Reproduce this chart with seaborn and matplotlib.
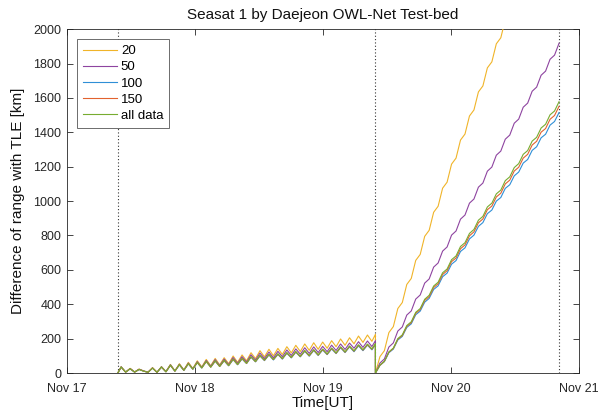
import numpy as np
import pandas as pd
import matplotlib
matplotlib.use("Agg")
import matplotlib.pyplot as plt
import seaborn as sns

# ---------------- data ----------------
series_names = ["20", "50", "100", "150", "all data"]
colors = ["#F0B429", "#8E44A0", "#2F8FD6", "#E2622E", "#77AC30"]

# time grid (day of November, UT): pass start, half-orbit samples, end
pass1_start = 17.40
pass_split = 19.41
half_orbit = 0.03496
first_peak = 17.6695
t_pass1 = [pass1_start] + [round(first_peak + half_orbit * m, 4) for m in range(-7, 50)] + [pass_split]
t_pass2 = [round(pass_split + half_orbit * j, 4) for j in range(0, 42)]

y20_p1 = [2, 37, 5, 27, 6, 23, 12, 5,
          31, 4, 37, 8, 50, 12, 54, 18, 62, 26, 71, 35, 79, 42, 85, 47, 89, 54,
          99, 62, 105, 71, 118, 84, 130, 94, 138, 100, 143, 108, 153, 117, 161, 125,
          169, 132, 176, 138, 180, 144, 188, 153, 198, 161, 205, 170, 215, 178, 221, 184,
          225]
y50_p1 = [2, 36, 5, 26, 6, 22, 12, 5,
          30, 4, 36, 8, 48, 12, 51, 17, 58, 24, 66, 33, 73, 39, 78, 43, 81, 49,
          90, 56, 95, 64, 106, 75, 116, 84, 122, 88, 126, 95, 134, 102, 140, 109,
          147, 114, 152, 119, 155, 124, 162, 131, 169, 137, 174, 144, 182, 149, 186, 154,
          188]
y100_p1 = [2, 34, 5, 24, 5, 20, 11, 4,
           28, 4, 34, 7, 44, 11, 47, 15, 53, 22, 60, 29, 66, 34, 69, 38, 71, 42,
           78, 48, 82, 55, 92, 65, 99, 72, 105, 76, 108, 81, 115, 88, 121, 94,
           126, 98, 131, 102, 134, 107, 140, 113, 147, 119, 152, 124, 158, 130, 162, 135,
           165]
y150_p1 = [2, 34, 5, 25, 5, 21, 11, 4,
           29, 4, 34, 7, 45, 11, 48, 16, 54, 23, 61, 30, 67, 34, 70, 38, 73, 43,
           80, 49, 84, 56, 94, 66, 101, 74, 107, 78, 110, 83, 117, 90, 123, 96,
           129, 100, 134, 104, 137, 109, 143, 115, 150, 121, 155, 127, 162, 133, 165, 138,
           168]
yall_p1 = [2, 35, 5, 25, 5, 21, 11, 4,
           29, 4, 35, 7, 46, 11, 49, 16, 55, 23, 62, 30, 68, 35, 71, 39, 74, 44,
           81, 50, 85, 57, 95, 67, 103, 75, 109, 79, 112, 84, 119, 91, 125, 97,
           131, 102, 136, 106, 139, 111, 145, 117, 152, 123, 157, 129, 164, 135, 168, 140,
           171]

y20_p2 = [0, 95, 130, 235, 270, 375, 410, 515, 550, 655, 690, 795, 830, 935, 970,
          1075, 1110, 1215, 1250, 1355, 1390, 1495, 1530, 1635, 1670, 1775, 1810,
          1915, 1950, 2055, 2090, 2195, 2230, 2335, 2370, 2475, 2510, 2615, 2650,
          2755, 2790, 2895]
y50_p2 = [0, 58, 82, 151, 175, 244, 268, 337, 361, 430, 454, 523, 547, 616, 640,
          709, 733, 802, 826, 895, 919, 988, 1012, 1081, 1105, 1174, 1198, 1267,
          1291, 1360, 1384, 1453, 1477, 1546, 1570, 1639, 1663, 1732, 1756, 1825,
          1849, 1918]
y100_p2 = [0, 44, 66, 118, 139, 192, 213, 265, 286, 339, 360, 412, 434, 486, 507,
           560, 581, 633, 654, 707, 728, 780, 802, 853, 875, 927, 948, 1000, 1021,
           1074, 1095, 1147, 1169, 1221, 1242, 1295, 1316, 1368, 1389, 1442, 1463,
           1515]
y150_p2 = [0, 45, 68, 121, 143, 197, 218, 271, 293, 347, 369, 422, 444, 497, 519,
           573, 595, 648, 669, 723, 745, 798, 821, 874, 896, 950, 971, 1024, 1046,
           1100, 1122, 1175, 1197, 1250, 1272, 1326, 1348, 1401, 1422, 1476, 1498,
           1551]
yall_p2 = [0, 46, 69, 123, 145, 200, 222, 276, 298, 353, 375, 429, 452, 506, 528,
           583, 605, 659, 681, 736, 758, 812, 835, 889, 911, 966, 988, 1042, 1064,
           1119, 1141, 1195, 1218, 1272, 1294, 1349, 1371, 1425, 1447, 1502, 1524,
           1578]

vlines = [17.40, 19.41, 20.84]
xticks = [17, 18, 19, 20, 21]
xticklabels = ["Nov 17", "Nov 18", "Nov 19", "Nov 20", "Nov 21"]
yticks = list(range(0, 2001, 200))

# ---------------- build long-form table ----------------
p1 = [y20_p1, y50_p1, y100_p1, y150_p1, yall_p1]
p2 = [y20_p2, y50_p2, y100_p2, y150_p2, yall_p2]
frames = []
for name, a, b in zip(series_names, p1, p2):
    frames.append(pd.DataFrame({"t": t_pass1 + t_pass2, "v": a + b, "s": name}))
df = pd.concat(frames, ignore_index=True)

# ---------------- plot ----------------
plt.rcParams["font.family"] = ["Liberation Sans", "DejaVu Sans"]
fig = plt.figure(figsize=(6.07, 4.17), dpi=100)
ax = fig.add_axes([0.110, 0.1055, 0.954 - 0.110, 0.930 - 0.1055])

for xv in vlines:
    ax.axvline(xv, color="#333333", linestyle=(0, (1, 2)), linewidth=0.8, zorder=1)

sns.lineplot(data=df, x="t", y="v", hue="s", hue_order=series_names,
             palette=colors, sort=False, estimator=None, units="s",
             linewidth=0.8, ax=ax, zorder=3)

ax.set_xlim(17, 21)
ax.set_ylim(0, 2000)
ax.set_xticks(xticks)
ax.set_xticklabels(xticklabels)
ax.set_yticks(yticks)
ax.tick_params(direction="in", length=4, width=0.6, top=True, right=True,
               labelsize=9, colors="#262626")
ax.tick_params(axis="x", pad=7)
ax.tick_params(axis="y", pad=4)
for sp in ax.spines.values():
    sp.set_color("#262626")
    sp.set_linewidth(0.6)

ax.set_title("Seasat 1 by Daejeon OWL-Net Test-bed", fontsize=11, color="#111111", pad=7)
ax.set_xlabel("Time[UT]", fontsize=11, color="#111111", labelpad=1)
ax.set_ylabel("Difference of range with TLE [km]", fontsize=11, color="#111111", labelpad=6)

handles, labels = ax.get_legend_handles_labels()
leg = ax.legend(handles, labels, loc="upper left", fontsize=9.5, frameon=True,
                fancybox=False, edgecolor="#555555", framealpha=1,
                borderaxespad=0.75, handlelength=2.6, handletextpad=0.3,
                labelspacing=0.3, borderpad=0.45)
leg.get_frame().set_linewidth(0.6)

fig.savefig("out.png", dpi=100)
